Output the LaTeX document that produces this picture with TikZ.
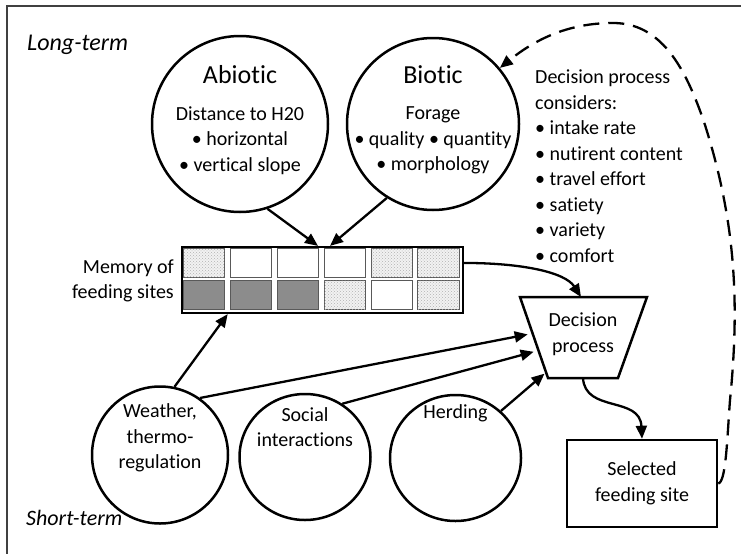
\documentclass[tikz,border=0pt]{standalone}
\usepackage{fontspec}
\setmainfont{Carlito}[Ligatures={NoCommon}]
\usetikzlibrary{arrows.meta,patterns,calc,shapes.geometric}
\newcommand\circtitle{\fontsize{26}{30}\selectfont}
\tikzset{
  body/.style={font=\fontsize{20}{25.5}\selectfont, align=center, inner sep=0pt},
  ring/.style={draw, circle, line width=2.5pt, inner sep=0pt},
  oval/.style={draw, ellipse, line width=2.5pt, inner sep=0pt},
  arr/.style={line width=2.3pt, -{Triangle[length=13pt,width=11pt]}},
  feedback/.style={line width=2.3pt, dash pattern=on 16pt off 9pt, -{Triangle[length=13pt,width=11pt]}},
  cellw/.style={draw=black!65, line width=0.9pt, fill=white},
  cellh/.style={draw=black!65, line width=0.9pt, fill=gray!10, postaction={pattern=crosshatch dots, pattern color=gray!60}},
  celld/.style={draw=black!65, line width=0.9pt, fill=black!45}
}
\begin{document}
\begin{tikzpicture}[x=1pt, y=-1pt]
      \useasboundingbox (0,0) rectangle (741,554);
      \draw[line width=1.5pt, black!75] (741,6) -- (7,6) -- (7,554);
      \node[font=\fontsize{24}{28}\selectfont\itshape, anchor=west, inner sep=0pt] (long) at (27,45) {Long-term};
      \node[font=\fontsize{22}{28}\selectfont\itshape, anchor=west, inner sep=0pt] (short) at (26,518) {Short-term};
      \node[ring, minimum size=176pt] (abio) at (240,124) {};
      \node[ring, minimum size=172pt] (bio) at (433,124) {};
      \node[body] (abioT) at (240,120) {{\circtitle Abiotic}\\[11pt]Distance to H20\\\textbullet{} horizontal\\\textbullet{} vertical slope};
      \node[body] (bioT) at (433,120) {{\circtitle Biotic}\\[11pt]Forage\\\textbullet{} quality \textbullet{} quantity\\\textbullet{} morphology};
      \node[body, align=left, anchor=west] (cons) at (535,166) {Decision process\\considers:\\\textbullet{} intake rate\\\textbullet{} nutirent content\\\textbullet{} travel effort\\\textbullet{} satiety\\\textbullet{} variety\\\textbullet{} comfort};
      \node[body, align=right, anchor=east] (memT) at (174,281) {Memory of\\feeding sites};
      \node[draw, line width=2.2pt, minimum width=281pt, minimum height=66pt, inner sep=0pt] (mem) at (322.5,280) {};
      \foreach \s [count=\i from 0] in {cellh,cellw,cellw,cellw,cellh,cellh}
        \draw[\s] ($(mem.north west)+(\i*46.83+2.8,2.8)$) rectangle +(41.2,28.7);
      \foreach \s [count=\i from 0] in {celld,celld,celld,cellh,cellw,cellh}
        \draw[\s] ($(mem.north west)+(\i*46.83+2.8,34.5)$) rectangle +(41.2,28.7);
      \coordinate (dtl) at (520,297);
      \coordinate (dtr) at (647,297);
      \coordinate (dbr) at (618,378);
      \coordinate (dbl) at (548,378);
      \draw[line width=2.5pt, line join=miter] (dtl) -- (dtr) -- (dbr) -- (dbl) -- cycle;
      \node[body] (dec) at (583,334) {Decision\\process};
      \node[body, draw, line width=2.5pt, minimum width=150pt, minimum height=87pt] (sel) at (642,483.5) {Selected\\feeding site};
      \node[oval, minimum width=136pt, minimum height=137pt] (wea) at (160,455) {};
      \node[oval, minimum width=131pt, minimum height=126pt] (soc) at (305,457) {};
      \node[oval, minimum width=131pt, minimum height=126pt] (herd) at (455.5,458) {};
      \node[body] (weaT) at (160,438) {Weather,\\thermo-\\regulation};
      \node[body] (socT) at (305,427) {Social\\interactions};
      \node[body] (herdT) at (455.5,413) {Herding};
      \begin{scope}[arr]
        \draw (abio.-72) -- ($(mem.north)+(-4.5,0)$);
        \draw (bio.-122) -- ($(mem.north)+(7.5,0)$);
        \draw (wea.78) -- ($(mem.south west)+(46.8,0)$);
        \draw ($(mem.north east)!0.25!(mem.south east)$) .. controls +(57,0) and +(-16,-25) .. ($(dtl)!0.48!(dtr)$);
        \draw[shorten >=5pt] (wea.55) -- ($(dtl)!0.45!(dbl)$);
        \draw[shorten >=5pt] (soc.55) -- ($(dtl)!0.66!(dbl)$);
        \draw[shorten >=2pt] (herd.46) -- ($(dtl)!0.93!(dbl)$);
        \draw ($(dbl)!0.5!(dbr)$) .. controls +(2,35) and +(-2,-43) .. (sel.north);
      \end{scope}
      \draw[feedback] (sel.east) .. controls (726,482) and (727,440) .. (730,400)
        .. controls (740,300) and (735,220) .. (705,125)
        .. controls (685,65) and (660,23) .. (613,23)
        .. controls (570,23) and (537,38) .. (bio.40);
\end{tikzpicture}
\end{document}
